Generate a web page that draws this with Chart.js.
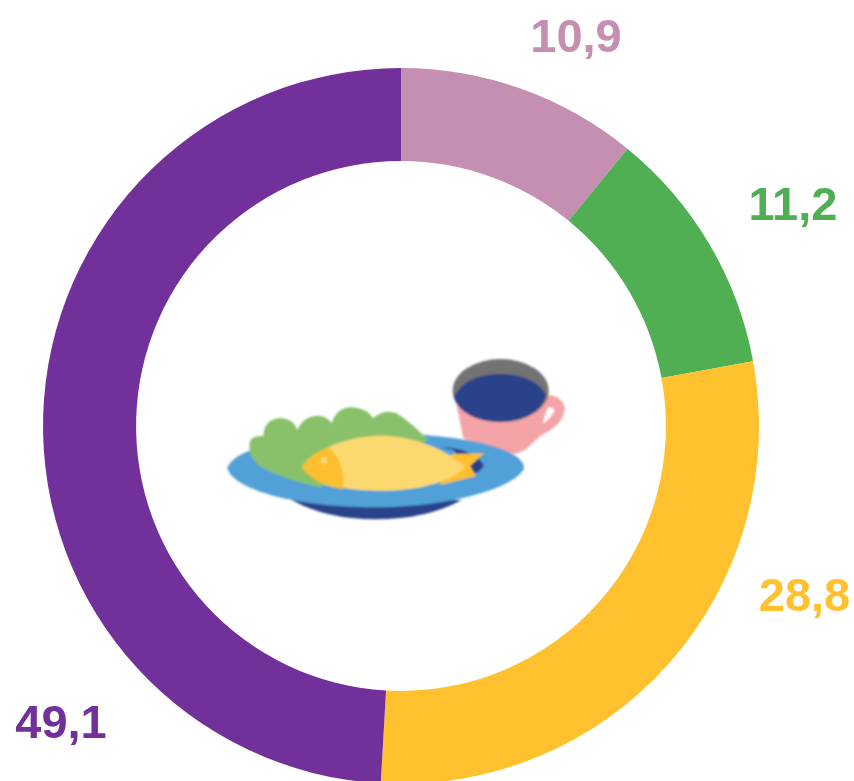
<!DOCTYPE html>
<html>
<head>
<meta charset="utf-8">
<title>Dona</title>
<script src="https://cdn.jsdelivr.net/npm/chart.js@4/dist/chart.umd.min.js"></script>
<style>
  html, body { margin: 0; padding: 0; background: #fff; overflow: hidden; }
  #wrap { position: relative; width: 854px; height: 781px; overflow: hidden; }
  #myChart { position: absolute; left: 0; top: 0; }
  #icono { position: absolute; left: 220px; top: 350px; width: 350px; height: 180px; }
</style>
</head>
<body>
<div id="wrap">
  <canvas id="myChart" width="854" height="830"></canvas>
  <!-- dibujo del plato y la taza, en coordenadas propias del viewBox -->
  <svg id="icono" viewBox="0 0 1050 540">
    <defs><filter id="suave"><feGaussianBlur stdDeviation="2.5"/></filter></defs>
    <g filter="url(#suave)">
      <path d="M705 140 L730 265 Q790 300 885 312 L915 300 L965 255 Q1030 225 1035 175 Q1025 135 978 135 Z" fill="#f4a3a6"/>
      <path d="M985 172 Q1000 170 1003 184 Q992 205 968 222 Q975 190 985 172 Z" fill="#fff"/>
      <ellipse cx="842" cy="122" rx="144" ry="95" fill="#737373"/>
      <path d="M702 140 C730 85 790 72 842 72 C900 72 955 90 978 135 C965 190 900 215 840 215 C775 215 715 190 702 140 Z" fill="#2b4289"/>
      <path d="M215 450 Q320 508 465 508 Q620 508 725 450 Z" fill="#2b4289"/>
      <path d="M22 355 C30 325 70 308 120 290 C220 262 340 250 470 250 C700 250 912 290 912 355 C890 410 700 472 465 472 C230 472 40 420 22 355 Z" fill="#51a0d8"/>
      <path d="M660 290 Q760 295 792 345 Q785 365 760 372 L700 300 Z" fill="#2b4289"/>
      <path d="M88 280 Q92 255 130 258 Q132 205 185 204 Q222 208 232 240 Q250 198 295 197 Q325 200 335 220 Q350 172 395 172 Q440 175 460 205 Q490 175 530 190 Q570 215 625 270 L300 412 Q180 385 115 345 Q85 320 88 280 Z" fill="#88c16b"/>
      <path d="M695 312 L792 310 L750 348 L768 378 L660 405 Z" fill="#fdbf2d"/>
      <path d="M245 352 C300 285 400 257 490 257 C590 260 680 300 735 350 C690 400 580 424 470 422 C380 422 290 405 245 352 Z" fill="#fcd96e"/>
      <path d="M245 352 C262 325 290 305 325 292 C360 320 378 370 368 417 C320 412 280 395 245 352 Z" fill="#fdbf2d"/>
      <circle cx="312" cy="332" r="10" fill="#fcd96e"/>
    </g>
  </svg>
</div>
<script>
// valores, en el sentido de las agujas desde arriba
const categorias = ['A', 'B', 'C', 'D'];
const valores = [10.9, 11.2, 28.8, 49.1];
const colores = ['#c48fb0', '#50af52', '#ffc12d', '#72309b'];

// centro horizontal y linea base de cada etiqueta
const etiquetasX = [576, 793, 804.5, 61];
const etiquetasY = [52, 220, 611, 738];

// escribe el valor de cada porcion con coma decimal
const pluginEtiquetas = {
  id: 'etiquetas',
  afterDraw(chart) {
    const ctx = chart.ctx;
    ctx.save();
    ctx.font = 'bold 47px "Liberation Sans", Arial, sans-serif';
    ctx.textAlign = 'center';
    ctx.textBaseline = 'alphabetic';
    valores.forEach((v, i) => {
      ctx.fillStyle = colores[i];
      ctx.fillText(v.toFixed(1).replace('.', ','), etiquetasX[i], etiquetasY[i]);
    });
    ctx.restore();
  }
};

new Chart(document.getElementById('myChart').getContext('2d'), {
  type: 'doughnut',
  data: {
    labels: categorias,
    datasets: [{
      data: valores,
      backgroundColor: colores,
      borderWidth: 0,
      hoverOffset: 0
    }]
  },
  options: {
    responsive: false,
    animation: false,
    cutout: '74%',
    layout: { padding: { left: 43, right: 95, top: 68, bottom: 46 } },
    plugins: { legend: { display: false }, tooltip: { enabled: false } }
  },
  plugins: [pluginEtiquetas]
});
</script>
</body>
</html>
